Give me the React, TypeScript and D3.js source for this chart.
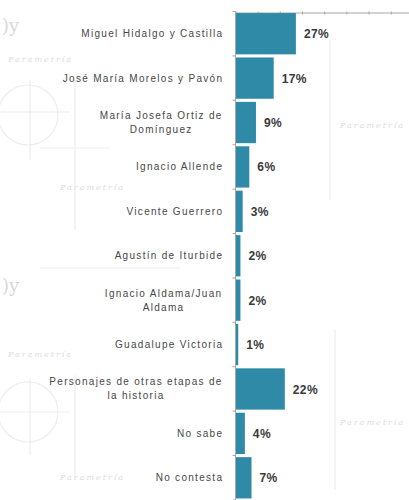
import React from "react";
import * as d3 from "d3";

const categories: string[][] = [
  ["Miguel Hidalgo y Castilla"],
  ["José María Morelos y Pavón"],
  ["María Josefa Ortiz de", "Domínguez"],
  ["Ignacio Allende"],
  ["Vicente Guerrero"],
  ["Agustín de Iturbide"],
  ["Ignacio Aldama/Juan", "Aldama"],
  ["Guadalupe Victoria"],
  ["Personajes de otras etapas de", "la historia"],
  ["No sabe"],
  ["No contesta"],
];
const values: number[] = [27, 17, 9, 6, 3, 2, 2, 1, 22, 4, 7];
const xTicks: number[] = [0, 10, 20, 30, 40, 50, 60, 70];

const W = 409;
const H = 500;
const X0 = 236;
const TOP = 11.5;
const BAND_END = 500;
const LABEL_RIGHT = 222;
const FONT_SIZE = 10;
const LETTER_SP = 1.3;
const FONT = "Liberation Sans";

let ctx: CanvasRenderingContext2D | null = null;
function measure(s: string): number {
  if (!ctx && typeof document !== "undefined") {
    ctx = document.createElement("canvas").getContext("2d");
  }
  if (!ctx) return s.length * 6;
  ctx.font = `${FONT_SIZE}px "${FONT}"`;
  return ctx.measureText(s).width + s.length * LETTER_SP;
}

export default function App() {
  const keys = categories.map((c, i) => String(i));
  const x = d3.scaleLinear().domain([0, 78]).range([X0, W]);
  const y = d3.scaleBand<string>().domain(keys).range([TOP, BAND_END]).paddingInner(0.07).paddingOuter(0.035);
  const step = y.step();
  const boundaries = d3.range(keys.length + 1).map((i) => TOP + i * step);
  const barColor = "#2e8aa7";
  const axisColor = "#a6a6a6";
  const wm = "#ededed";

  return (
    <svg width={W} height={H} style={{ position: "absolute", left: 0, top: 0, background: "#fff" }}>
      {/* faint watermark */}
      <g stroke={wm} fill="none" strokeWidth={1.2}>
        <circle cx={28} cy={115} r={30} />
        <line x1={0} y1={112} x2={70} y2={112} />
        <line x1={30} y1={80} x2={30} y2={160} />
        <line x1={75} y1={80} x2={75} y2={230} />
        <line x1={40} y1={148} x2={110} y2={148} />
        <circle cx={28} cy={412} r={30} />
        <line x1={0} y1={412} x2={70} y2={412} />
        <line x1={30} y1={378} x2={30} y2={455} />
        <line x1={75} y1={375} x2={75} y2={480} />
        <line x1={40} y1={268} x2={180} y2={268} />
        <line x1={330} y1={40} x2={330} y2={200} />
        <line x1={335} y1={330} x2={335} y2={490} />
      </g>
      <g fill="#d8d8d8" fontFamily="DejaVu Serif" fontSize={18}>
        <text x={2} y={32}>)y</text>
        <text x={2} y={292}>)y</text>
      </g>
      <g fill="#dddddd" fontFamily="DejaVu Serif" fontStyle="italic" fontSize={8} letterSpacing={2}>
        <text x={8} y={62}>Parametría</text>
        <text x={8} y={357}>Parametría</text>
        <text x={60} y={190}>Parametría</text>
        <text x={60} y={480}>Parametría</text>
        <text x={340} y={128}>Parametría</text>
        <text x={340} y={425}>Parametría</text>
      </g>

      {/* top axis */}
      <line x1={X0} y1={13} x2={W} y2={13} stroke={axisColor} strokeWidth={1} />
      {xTicks.map((t) => (
        <line key={t} x1={x(t)} x2={x(t)} y1={11.5} y2={14.5} stroke={axisColor} strokeWidth={1} />
      ))}

      {/* bars */}
      {values.map((v, i) => (
        <rect
          key={i}
          x={x(0)}
          y={y(String(i))!}
          width={x(v) - x(0)}
          height={y.bandwidth()}
          fill={barColor}
        />
      ))}

      {/* left axis */}
      <line x1={X0 - 0.5} y1={TOP} x2={X0 - 0.5} y2={H} stroke={axisColor} strokeWidth={1} />
      {boundaries.map((b, i) => (
        <line key={i} x1={X0 - 3.5} x2={X0 - 0.5} y1={b} y2={b} stroke={axisColor} strokeWidth={1} />
      ))}

      {/* category labels */}
      {categories.map((lines, i) => {
        const cy = y(String(i))! + y.bandwidth() / 2;
        const lh = 14;
        const maxW = d3.max(lines, (l) => measure(l)) || 0;
        const multi = lines.length > 1;
        return (
          <text
            key={i}
            fontFamily={`${FONT}, Arial, sans-serif`}
            fontSize={FONT_SIZE}
            letterSpacing={LETTER_SP}
            fill="#474747"
            textAnchor={multi ? "middle" : "end"}
          >
            {lines.map((l, j) => (
              <tspan
                key={j}
                x={multi ? LABEL_RIGHT - maxW / 2 + LETTER_SP / 2 : LABEL_RIGHT + LETTER_SP}
                y={cy + (j - (lines.length - 1) / 2) * lh}
                dy="0.35em"
              >
                {l}
              </tspan>
            ))}
          </text>
        );
      })}

      {/* value labels */}
      {values.map((v, i) => (
        <text
          key={i}
          x={x(v) + 8}
          y={y(String(i))! + y.bandwidth() / 2}
          dy="0.38em"
          fontFamily={`${FONT}, Arial, sans-serif`}
          fontSize={12}
          fontWeight={700}
          letterSpacing={0.4}
          fill="#3a3a3a"
        >
          {v}%
        </text>
      ))}
    </svg>
  );
}
